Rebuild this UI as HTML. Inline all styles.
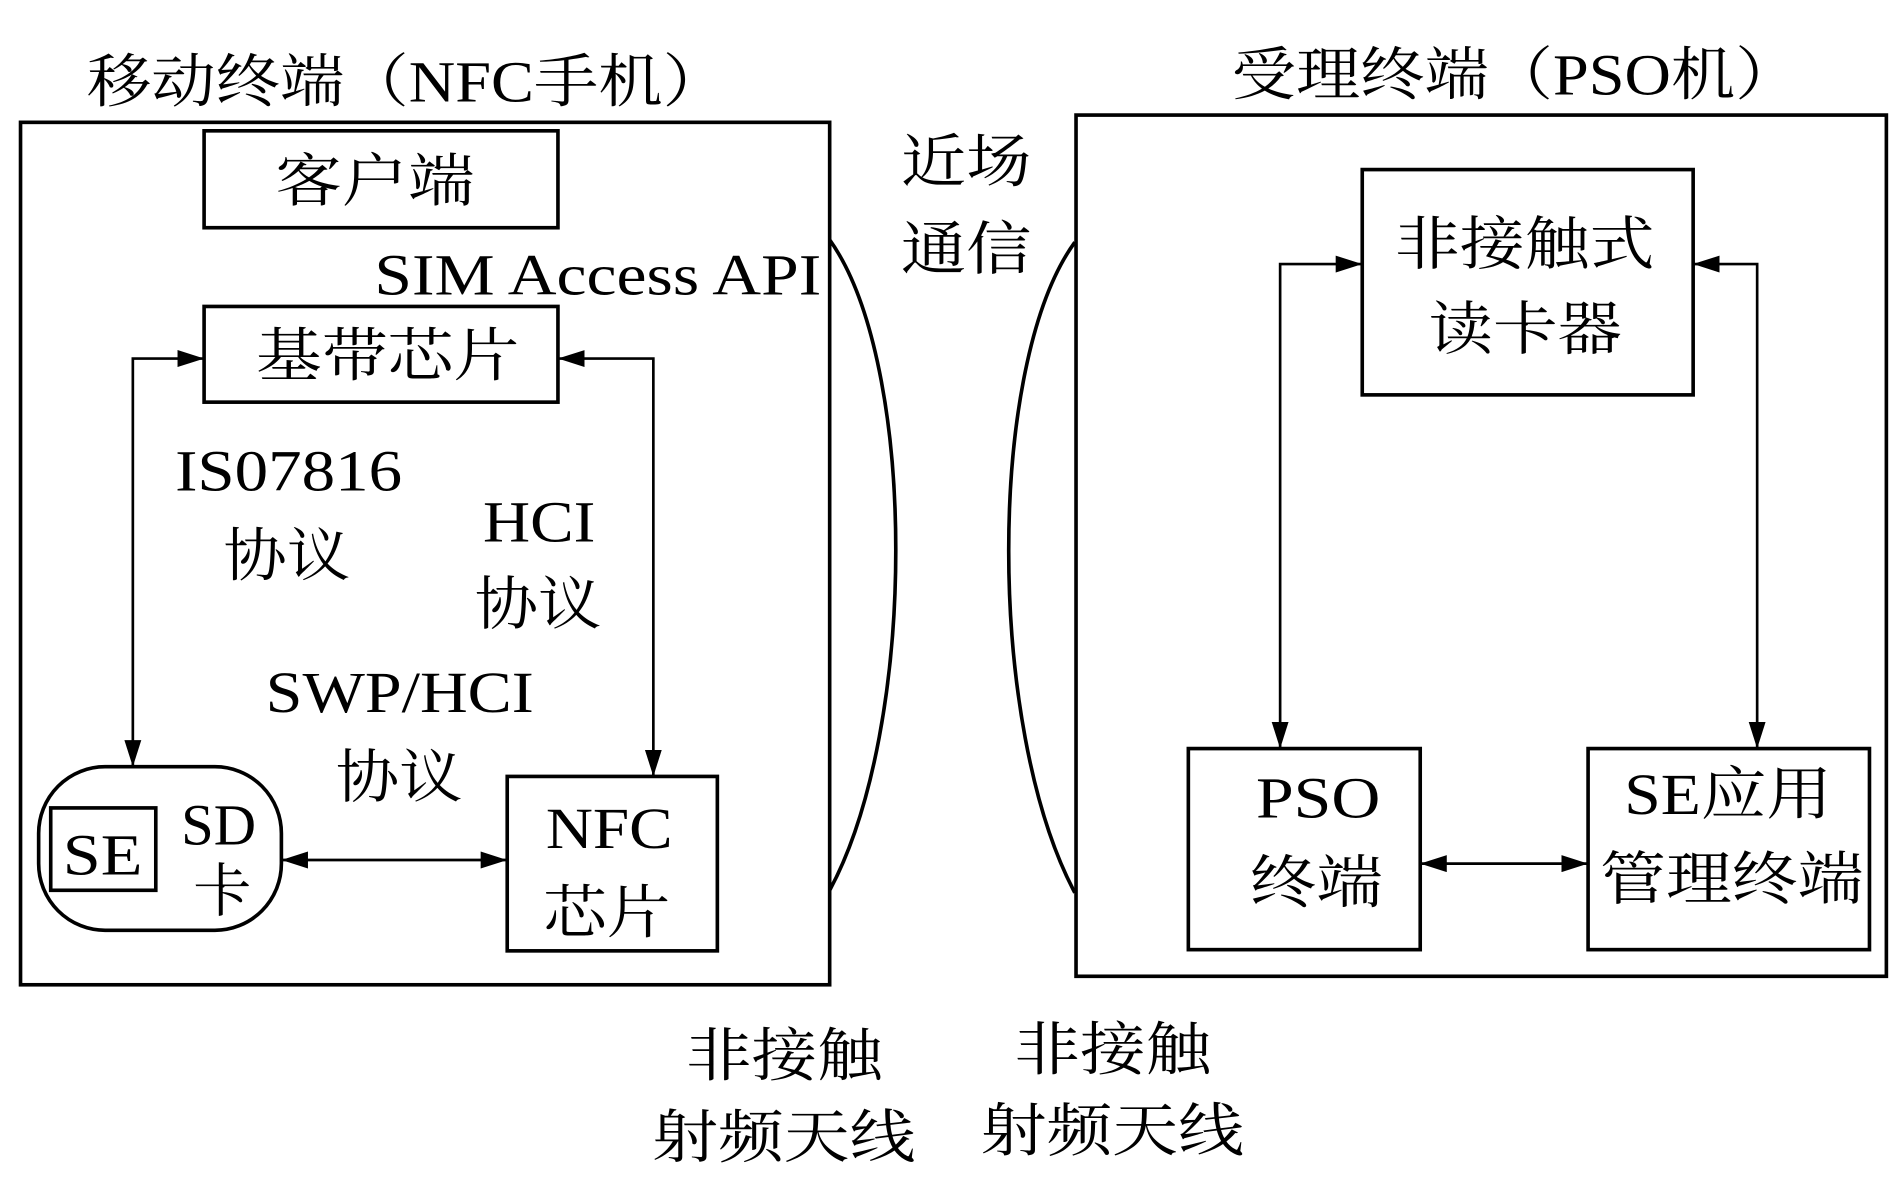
<!DOCTYPE html>
<html><head><meta charset="utf-8"><style>html,body{margin:0;padding:0;background:#fff}svg{display:block}</style></head><body>
<svg width="1890" height="1181" viewBox="0 0 1565 975" preserveAspectRatio="none" xmlns="http://www.w3.org/2000/svg">
<defs><marker id="a" markerWidth="10" markerHeight="8" refX="10" refY="4" orient="auto-start-reverse" markerUnits="userSpaceOnUse" viewBox="0 0 10 8"><path d="M0,0L10,4L0,8z" fill="#000"/></marker>
<marker id="b" markerWidth="22" markerHeight="14" refX="22" refY="7" orient="auto-start-reverse" markerUnits="userSpaceOnUse"><path d="M0,0L22,7L0,14z" fill="#000"/></marker></defs>
<g fill="none" stroke="#000" stroke-width="3">
<rect x="17" y="101" width="670" height="712"/>
<rect x="169" y="108" width="293" height="80"/>
<rect x="169" y="253" width="293" height="79"/>
<rect x="32" y="633" width="201" height="135" rx="55"/>
<rect x="42" y="667" width="87" height="68"/>
<rect x="420" y="641" width="174" height="144"/>
<rect x="891" y="95" width="671" height="711"/>
<rect x="1128" y="140" width="274" height="186"/>
<rect x="984" y="618" width="192" height="166"/>
<rect x="1315" y="618" width="233" height="166"/>
<path d="M687,198 C760,300 760,600 687,735"/>
<path d="M890,200 C817,300 817,600 890,737"/>
</g>
<g fill="none" stroke="#000" stroke-width="2.2">
<polyline points="169,296 110,296 110,633" marker-start="url(#b)" marker-end="url(#b)"/>
<polyline points="462,296 541,296 541,641" marker-start="url(#b)" marker-end="url(#b)"/>
<line x1="233" y1="710" x2="420" y2="710" marker-start="url(#b)" marker-end="url(#b)"/>
<polyline points="1128,218 1060,218 1060,618" marker-start="url(#b)" marker-end="url(#b)"/>
<polyline points="1402,218 1455,218 1455,618" marker-start="url(#b)" marker-end="url(#b)"/>
<line x1="1176" y1="713" x2="1315" y2="713" marker-start="url(#b)" marker-end="url(#b)"/>
</g>
<g font-family="'Liberation Serif','Noto Serif CJK SC',serif" font-size="48" fill="#000">
<text x="72" y="84" textLength="530" lengthAdjust="spacingAndGlyphs">移动终端（NFC手机）</text>
<text x="1020" y="78" textLength="470" lengthAdjust="spacingAndGlyphs">受理终端（PSO机）</text>
<text x="228" y="166" textLength="165" lengthAdjust="spacingAndGlyphs">客户端</text>
<text x="310" y="243" textLength="370" lengthAdjust="spacingAndGlyphs">SIM Access API</text>
<text x="212" y="310" textLength="218" lengthAdjust="spacingAndGlyphs">基带芯片</text>
<text x="145" y="405" textLength="188" lengthAdjust="spacingAndGlyphs">IS07816</text>
<text x="185" y="475" textLength="105" lengthAdjust="spacingAndGlyphs">协议</text>
<text x="400" y="447" textLength="93" lengthAdjust="spacingAndGlyphs">HCI</text>
<text x="393" y="515" textLength="105" lengthAdjust="spacingAndGlyphs">协议</text>
<text x="220" y="588" textLength="222" lengthAdjust="spacingAndGlyphs">SWP/HCI</text>
<text x="278" y="658" textLength="105" lengthAdjust="spacingAndGlyphs">协议</text>
<text x="52" y="722" textLength="66" lengthAdjust="spacingAndGlyphs">SE</text>
<text x="150" y="697" textLength="62" lengthAdjust="spacingAndGlyphs">SD</text>
<text x="160" y="752">卡</text>
<text x="452" y="700" textLength="105" lengthAdjust="spacingAndGlyphs">NFC</text>
<text x="450" y="770" textLength="105" lengthAdjust="spacingAndGlyphs">芯片</text>
<text x="746" y="150" textLength="108" lengthAdjust="spacingAndGlyphs">近场</text>
<text x="746" y="222" textLength="108" lengthAdjust="spacingAndGlyphs">通信</text>
<text x="1155" y="218" textLength="215" lengthAdjust="spacingAndGlyphs">非接触式</text>
<text x="1183" y="288" textLength="160" lengthAdjust="spacingAndGlyphs">读卡器</text>
<text x="1040" y="675" textLength="103" lengthAdjust="spacingAndGlyphs">PSO</text>
<text x="1035" y="745" textLength="110" lengthAdjust="spacingAndGlyphs">终端</text>
<text x="1345" y="672" textLength="172" lengthAdjust="spacingAndGlyphs">SE应用</text>
<text x="1325" y="742" textLength="218" lengthAdjust="spacingAndGlyphs">管理终端</text>
<text x="568" y="888" textLength="163" lengthAdjust="spacingAndGlyphs">非接触</text>
<text x="540" y="955" textLength="218" lengthAdjust="spacingAndGlyphs">射频天线</text>
<text x="840" y="883" textLength="163" lengthAdjust="spacingAndGlyphs">非接触</text>
<text x="812" y="950" textLength="218" lengthAdjust="spacingAndGlyphs">射频天线</text>
</g>
</svg>
</body></html>
